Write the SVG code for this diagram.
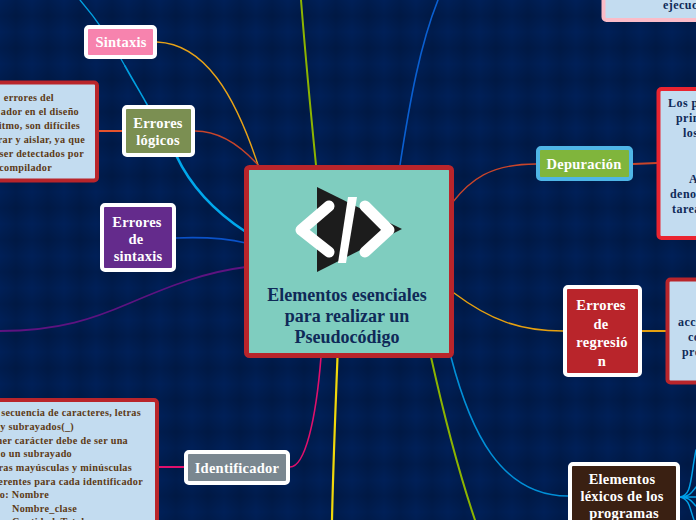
<svg xmlns="http://www.w3.org/2000/svg" width="696" height="520" viewBox="0 0 696 520">
<style>
text{font-family:"Liberation Serif","Times New Roman",serif;font-weight:bold}
.t{fill:#fff;font-size:14.500px;letter-spacing:.25px;text-anchor:middle}
.c{fill:#0f2a58;font-size:18px;text-anchor:middle}
.b{fill:#5c3a16;font-size:10.200px;letter-spacing:.3px}
.e{text-anchor:end}
.n{fill:#0f2a58;font-size:12px;letter-spacing:.45px}
.box{fill:#c3dcf0;stroke-width:4}
.node{stroke:#fff;stroke-width:4}
path{fill:none;stroke-linecap:round}
</style>
<defs>
<linearGradient id="gv" x1="0" x2="1" y1="0" y2="0"><stop offset="0" stop-color="#000" stop-opacity="0"/><stop offset=".5" stop-color="#000" stop-opacity=".12"/><stop offset="1" stop-color="#000" stop-opacity="0"/></linearGradient>
<linearGradient id="gh" x1="0" x2="0" y1="0" y2="1"><stop offset="0" stop-color="#000" stop-opacity="0"/><stop offset=".5" stop-color="#000" stop-opacity=".12"/><stop offset="1" stop-color="#000" stop-opacity="0"/></linearGradient>
<pattern id="plaid" width="32" height="32" patternUnits="userSpaceOnUse">
<rect x="0" y="0" width="32" height="32" fill="url(#gv)"/>
<rect x="0" y="0" width="32" height="32" fill="url(#gh)"/>
</pattern>
</defs>
<rect width="696" height="520" fill="#002058"/>
<rect width="696" height="520" fill="url(#plaid)"/>
<g id="connectors">
<path d="M80 0C92 14 108 34 125 66" stroke="#00a0e0" stroke-width="1.300"/>
<path d="M125 66C135 84 142 95 150 110" stroke="#00a0e0" stroke-width="1.600"/>
<path d="M176 155C190 185 212 210 246 232" stroke="#00a8ec" stroke-width="2.600"/>
<path d="M157 42C205 44 235 95 258 165" stroke="#e8a317" stroke-width="1.400"/>
<path d="M195 131C220 131 240 145 258 165" stroke="#c8452a" stroke-width="1.300"/>
<path d="M98 131H122" stroke="#e5532d" stroke-width="2"/>
<path d="M176 238C200 237 225 238 246 243" stroke="#0a52c8" stroke-width="1.600"/>
<path d="M0 331C60 331 95 318 130 303C170 286 205 272 246 267" stroke="#5d1380" stroke-width="1.800"/>
<path d="M290 467C305 467 316 420 321 357" stroke="#e0106c" stroke-width="1.600"/>
<path d="M158 467H184" stroke="#e0106c" stroke-width="2"/>
<path d="M337.500 357C335 420 333 470 332 520" stroke="#f0d80a" stroke-width="2.200"/>
<path d="M431 357C445 420 458 470 475 520" stroke="#8cb400" stroke-width="2"/>
<path d="M451 357C470 430 500 496 568 496" stroke="#0090d8" stroke-width="1.600"/>
<path d="M454 293C490 320 520 331 563 331" stroke="#e5a010" stroke-width="1.500"/>
<path d="M642 331L666 331" stroke="#e5a010" stroke-width="2"/>
<path d="M452 203C470 180 490 164 536 164" stroke="#c8452a" stroke-width="1.300"/>
<path d="M633 164L657 163" stroke="#c8452a" stroke-width="2"/>
<path d="M301 0C305 50 311 115 316 165" stroke="#8cb400" stroke-width="2"/>
<path d="M438 0C420 45 410 100 400 165" stroke="#0a5fd0" stroke-width="1.600"/>
<path d="M680 497C692 495 690 480 696 450M680 497C690 497 692 492 696 487M680 497H696M680 497C690 497 692 502 696 506M680 497C690 499 690 510 694 520" stroke="#00a0e8" stroke-width="1.500"/>
</g>
<g id="central">
<rect x="246.500" y="167.500" width="205" height="188" rx="3" fill="#7fcdbf" stroke="#b9252b" stroke-width="5"/>
<polygon points="317,187 402,229 317,272" fill="#1c1c1c"/>
<path d="M329 206L301 230L329 252M365 206L389 230L365 252" stroke="#fff" stroke-width="11" stroke-linejoin="round"/>
<polygon points="348,197 357,197 346,263 338,263" fill="#fff"/>
<text class="c" x="347" y="301">Elementos esenciales</text>
<text class="c" x="347" y="322">para realizar un</text>
<text class="c" x="347" y="343">Pseudocódigo</text>
</g>
<g id="sintaxis">
<rect class="node" x="86" y="27" width="69" height="30" rx="3" fill="#f783ae"/>
<text class="t" x="121" y="47">Sintaxis</text>
</g>
<g id="errores-logicos">
<rect class="node" x="124" y="107" width="69" height="48" rx="3" fill="#7b8f52"/>
<text class="t" x="158" y="128">Errores</text>
<text class="t" x="158" y="145">lógicos</text>
</g>
<g id="errores-logicos-detalle">
<rect class="box" x="-20" y="82.500" width="117" height="98" rx="3" stroke="#b9252b"/>
<text class="b e" x="54" y="101">errores del</text>
<text class="b e" x="79" y="115">ador en el diseño</text>
<text class="b e" x="80" y="129">itmo, son difíciles</text>
<text class="b e" x="85" y="143">rar y aislar, ya que</text>
<text class="b e" x="84" y="157">ser detectados por</text>
<text class="b e" x="52" y="171">compilador</text>
</g>
<g id="errores-sintaxis">
<rect class="node" x="102" y="205" width="72" height="65" rx="3" fill="#642b8c"/>
<text class="t" x="137" y="227">Errores</text>
<text class="t" x="136" y="244">de</text>
<text class="t" x="138" y="261">sintaxis</text>
</g>
<g id="identificador">
<rect class="node" x="186" y="452" width="102" height="31" rx="3" fill="#7a8790"/>
<text class="t" x="237" y="473">Identificador</text>
</g>
<g id="identificador-detalle">
<rect class="box" x="-20" y="400" width="177" height="140" rx="3" stroke="#b9252b"/>
<text class="b e" x="141" y="416">secuencia de caracteres, letras</text>
<text class="b e" x="74" y="430">y subrayados(_)</text>
<text class="b e" x="128" y="444">ner carácter debe de ser una</text>
<text class="b e" x="72" y="457">o un subrayado</text>
<text class="b e" x="132" y="471">ras mayúsculas y minúsculas</text>
<text class="b e" x="143" y="485">erentes para cada identificador</text>
<text class="b e" x="49" y="498">o: Nombre</text>
<text class="b" x="12" y="512">Nombre_clase</text>
<text class="b" x="12" y="525">Cantidad_Total</text>
</g>
<g id="depuracion">
<rect x="538" y="148" width="93" height="31" rx="3" fill="#80b53c" stroke="#4fb6e6" stroke-width="4"/>
<text class="t" x="584" y="169">Depuración</text>
</g>
<g id="depuracion-detalle">
<rect class="box" x="658.500" y="89" width="60" height="149" rx="3" stroke="#ea2430"/>
<text class="n" x="668" y="107">Los p</text>
<text class="n" x="676" y="122">prin</text>
<text class="n" x="683" y="137">los</text>
<text class="n" x="689" y="183">A</text>
<text class="n" x="670" y="198">deno</text>
<text class="n" x="672" y="213">tarea</text>
</g>
<g id="errores-regresion">
<rect class="node" x="565" y="287" width="75" height="88" rx="3" fill="#b9252b"/>
<text class="t" x="601" y="310">Errores</text>
<text class="t" x="601" y="329">de</text>
<text class="t" x="602" y="347">regresió</text>
<text class="t" x="602" y="366">n</text>
</g>
<g id="errores-regresion-detalle">
<rect class="box" x="667.500" y="279.500" width="60" height="103" rx="3" stroke="#b9252b"/>
<text class="n" x="678" y="326">acce</text>
<text class="n" x="688" y="341">co</text>
<text class="n" x="682" y="356">pro</text>
</g>
<g id="elementos-lexicos">
<rect class="node" x="570" y="464" width="108" height="70" rx="3" fill="#3a2012"/>
<text class="t" x="622" y="484">Elementos</text>
<text class="t" x="622" y="501">léxicos de los</text>
<text class="t" x="624" y="518">programas</text>
</g>
<g id="ejecucion-detalle">
<rect class="box" x="603.500" y="-30" width="120" height="50" rx="3" stroke="#fbbcc8"/>
<text class="n" x="663" y="9">ejecuc</text>
</g>
</svg>
